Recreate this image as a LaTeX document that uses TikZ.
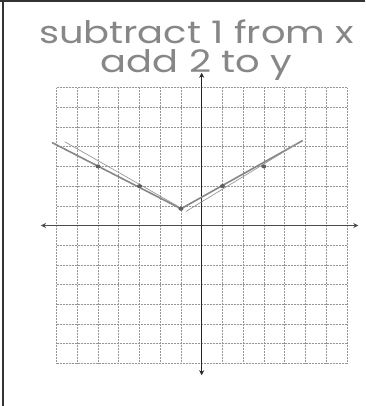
\documentclass[tikz,border=0pt]{standalone}
\usepackage{fontspec}
\setmainfont{Poppins}
\usetikzlibrary{arrows.meta,shapes.geometric}
\definecolor{pencil}{RGB}{135,135,135}
\definecolor{gridgray}{RGB}{150,150,150}
\tikzset{
  handtext/.style={text=pencil, font=\fontsize{31}{29}\selectfont, inner sep=0pt, align=center},
  gridline/.style={draw=gridgray, line width=0.5pt, dash pattern=on 0.5pt off 1.0pt},
  axisline/.style={draw=black!85, line width=1.3pt, {Stealth[length=5pt,width=5pt]}-{Stealth[length=5pt,width=5pt]}},
  branch/.style={draw=pencil, line width=1.6pt, line cap=round},
  branchthin/.style={draw=pencil!85, line width=0.7pt, line cap=round},
  pt/.style={ellipse, fill=pencil!70!black, inner sep=0pt, minimum width=5pt, minimum height=4pt},
  frame/.style={draw=black!80, line width=1.2pt}
}
\begin{document}
\begin{tikzpicture}[x=1pt,y=-1pt]
\useasboundingbox[fill=white] (0,0) rectangle (365,406);
% frame
\draw[frame] (3,0) -- (3,406);
\draw[frame] (0,1) -- (365,1);
% title (two handwritten lines)
\node[handtext, anchor=base] (title) at (196.5,73) {\scalebox{1.24}[1]{subtract 1 from x}\\\scalebox{1.24}[1]{add 2 to y}};
\begin{scope}[shift={(201.7,225.5)}, x=20.74pt, y=19.7pt]
  \foreach \i in {-7,...,-1,1,2,...,7} {
    \draw[gridline] (\i,-7) -- (\i,7);
    \draw[gridline] (-7,\i) -- (7,\i);
  }
  \draw[gridline] (0,-7) -- (0,7);
  \draw[gridline] (-7,0) -- (7,0);
  \coordinate (xl) at (-7.75,0);
  \coordinate (xr) at (7.55,0);
  \coordinate (yt) at (0,7.75);
  \coordinate (yb) at (0,-7.6);
  \draw[axisline, draw=black!70] (xl) -- (xr);
  \draw[axisline, line width=1.5pt] (yb) -- (yt);
  % graph branches
  \coordinate (v) at (-1,0.85);
  \coordinate (la) at (-7.2,4.2);
  \coordinate (lb) at (-6.6,4.25);
  \coordinate (ra) at (4.85,4.3);
  \coordinate (rb) at (-0.75,0.72);
  \draw[branch] (la) -- (v);
  \draw[branchthin] (lb) -- (-1.1,0.95);
  \draw[branch] (v) -- (ra);
  \draw[branchthin] (rb) -- (4.6,4.15);
  \node[pt] (p1) at (-5,3) {};
  \node[pt] (p2) at (-3,2) {};
  \node[pt] (p3) at (-1,0.85) {};
  \node[pt] (p4) at (1,2) {};
  \node[pt] (p5) at (3,3) {};
\end{scope}
\end{tikzpicture}
\end{document}
